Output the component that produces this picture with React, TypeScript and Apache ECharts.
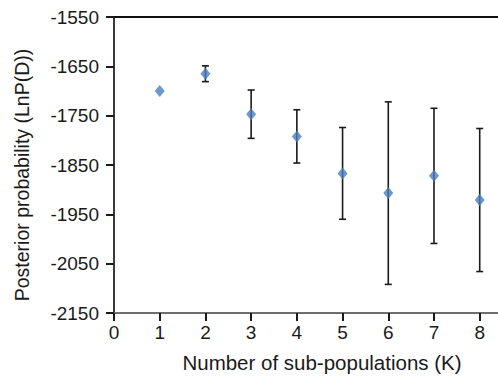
import React, { useEffect, useRef } from "react";
import * as echarts from "echarts";

const kValues = [1, 2, 3, 4, 5, 6, 7, 8];
const meanLnP = [-1700, -1665, -1747, -1792, -1867, -1907, -1872, -1921];
const sdLnP = [0, 16, 49, 54, 93, 185, 137, 145];
const xTicks = [0, 1, 2, 3, 4, 5, 6, 7, 8];
const yTicks = [-2150, -2050, -1950, -1850, -1750, -1650, -1550];

const FONT = "Liberation Sans, Arial, sans-serif";

export default function App() {
  const ref = useRef<HTMLDivElement>(null);
  useEffect(() => {
    if (!ref.current) return;
    const chart = echarts.init(ref.current, null, { renderer: "svg" });
    const errData = kValues.map((k, i) => [k, meanLnP[i] - sdLnP[i], meanLnP[i] + sdLnP[i]]);
    chart.setOption({
      animation: false,
      backgroundColor: "#fff",
      grid: { left: 114, top: 17, right: 0, bottom: 63 },
      xAxis: [
        {
          type: "value",
          min: 0,
          max: 8.4,
          interval: 1,
          axisLine: { show: true, onZero: false, lineStyle: { color: "#6e6e6e", width: 2 } },
          axisTick: { show: true, customValues: xTicks, length: 8, lineStyle: { color: "#1a1a1a", width: 2 } },
          axisLabel: {
            customValues: xTicks,
            margin: 10,
            color: "#1a1a1a",
            fontSize: 19,
            fontFamily: FONT,
            formatter: (v: number) => String(v),
          },
          splitLine: { show: false },
        },
        {
          type: "value",
          position: "top",
          min: 0,
          max: 8.4,
          axisLine: { show: true, onZero: false, lineStyle: { color: "#111", width: 2 } },
          axisTick: { show: false },
          axisLabel: { show: false },
          splitLine: { show: false },
        },
      ],
      yAxis: {
        type: "value",
        min: -2150,
        max: -1550,
        interval: 100,
        axisLine: { show: true, onZero: false, lineStyle: { color: "#3a3a3a", width: 2 } },
        axisTick: { show: true, customValues: yTicks, length: 8, lineStyle: { color: "#1a1a1a", width: 2 } },
        axisLabel: {
          customValues: yTicks,
          margin: 15,
          color: "#1a1a1a",
          fontSize: 19,
          fontFamily: FONT,
          formatter: (v: number) => String(v),
        },
        splitLine: { show: false },
      },
      graphic: [
        {
          type: "text",
          x: 322,
          y: 362,
          style: {
            text: "Number of sub-populations (K)",
            fill: "#1a1a1a",
            font: `20.5px ${FONT}`,
            align: "center",
            verticalAlign: "middle",
          },
        },
        {
          type: "text",
          x: 22,
          y: 175,
          rotation: Math.PI / 2,
          style: {
            text: "Posterior probability (LnP(D))",
            fill: "#1a1a1a",
            font: `19.5px ${FONT}`,
            align: "center",
            verticalAlign: "middle",
          },
        },
      ],
      series: [
        {
          type: "custom",
          data: errData,
          z: 1,
          renderItem: (params: any, api: any) => {
            const x = api.value(0);
            const lo = api.coord([x, api.value(1)]);
            const hi = api.coord([x, api.value(2)]);
            const hw = 3.5;
            const style = { stroke: "#1a1a1a", lineWidth: 1.6 };
            if (Math.abs(hi[1] - lo[1]) < 1) return { type: "group", children: [] };
            return {
              type: "group",
              children: [
                { type: "line", shape: { x1: hi[0], y1: hi[1], x2: lo[0], y2: lo[1] }, style },
                { type: "line", shape: { x1: hi[0] - hw, y1: hi[1], x2: hi[0] + hw, y2: hi[1] }, style },
                { type: "line", shape: { x1: lo[0] - hw, y1: lo[1], x2: lo[0] + hw, y2: lo[1] }, style },
              ],
            };
          },
        },
        {
          type: "scatter",
          data: kValues.map((k, i) => [k, meanLnP[i]]),
          symbol: "diamond",
          symbolSize: [10, 12],
          itemStyle: { color: "#4A7EBB" },
          z: 3,
        },
      ],
    });
    return () => chart.dispose();
  }, []);
  return <div ref={ref} style={{ width: 498, height: 376, position: "absolute", left: 0, top: 0 }} />;
}
